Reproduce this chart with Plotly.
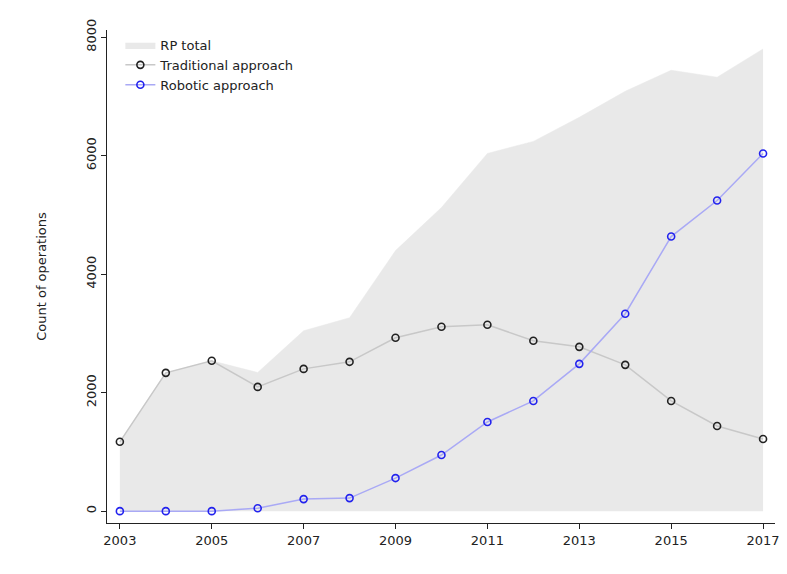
import plotly.graph_objects as go

years = list(range(2003, 2018))
rp_total = [1170, 2334, 2537, 2340, 3044, 3264, 4397, 5124, 6037, 6240, 6646, 7086, 7441, 7323, 7800]
traditional = [1170, 2334, 2537, 2097, 2401, 2520, 2926, 3112, 3146, 2875, 2773, 2469, 1860, 1437, 1218]
robotic = [0, 0, 0, 50, 203, 220, 558, 947, 1505, 1860, 2486, 3332, 4634, 5243, 6037]

fig = go.Figure()
fig.add_trace(go.Scatter(x=years, y=rp_total, name="RP total", mode="lines",
                         fill="tozeroy", fillcolor="#e9e9e9", line=dict(color="#e9e9e9", width=0.5)))
fig.add_trace(go.Scatter(x=years, y=traditional, name="Traditional approach", mode="lines+markers",
                         line=dict(color="#c8c8c8", width=1.5),
                         marker=dict(symbol="circle-open", size=7, color="#222", line=dict(width=1.6))))
fig.add_trace(go.Scatter(x=years, y=robotic, name="Robotic approach", mode="lines+markers",
                         line=dict(color="#a9a9f5", width=1.5),
                         marker=dict(symbol="circle-open", size=7, color="#2222ee", line=dict(width=1.6))))

fig.update_layout(
    width=787, height=574, paper_bgcolor="white", plot_bgcolor="white",
    margin=dict(l=99, r=20, t=22, b=59),
    font=dict(family="DejaVu Sans", size=13, color="#222"),
    legend=dict(x=0.02, y=1.0, xanchor="left", yanchor="top", bgcolor="rgba(0,0,0,0)",
                font=dict(size=13), tracegroupgap=0),
    xaxis=dict(range=[2002.72, 2017.26], tickvals=list(range(2003, 2018, 2)), showgrid=False,
               showline=True, linecolor="#222", ticks="outside", ticklen=5, tickcolor="#222", zeroline=False),
    yaxis=dict(range=[-200, 8120], tickvals=[0, 2000, 4000, 6000, 8000], showgrid=False,
               showline=True, linecolor="#222", ticks="outside", ticklen=5, tickcolor="#222",
               tickangle=-90, zeroline=False, title=dict(text="Count of operations", standoff=34, font=dict(size=13))),
)
fig.write_html("out.html")
